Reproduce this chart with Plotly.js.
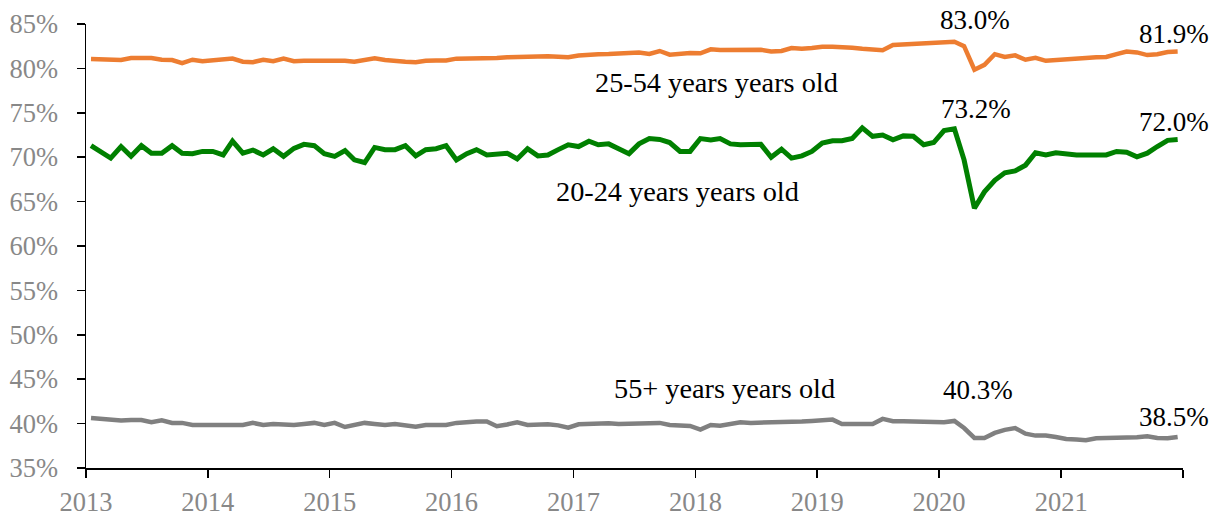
<!DOCTYPE html>
<html>
<head>
<meta charset="utf-8">
<script src="https://cdn.plot.ly/plotly-3.0.1.min.js"></script>
<style>html,body{margin:0;padding:0;background:#fff;}#chart{width:1221px;height:517px;}</style>
</head>
<body>
<div id="chart"></div>
<script>
// Monthly observations, Jan 2013 - Dec 2021
const years = [2013, 2014, 2015, 2016, 2017, 2018, 2019, 2020, 2021];
const tickYears = [2013, 2014, 2015, 2016, 2017, 2018, 2019, 2020, 2021, 2022];
const tickLabels = ['2013', '2014', '2015', '2016', '2017', '2018', '2019', '2020', '2021', ''];

const age2554 = [
  81.05, 80.98, 80.94, 80.94, 81.17, 81.17, 81.17, 80.98, 80.94, 80.6, 80.98, 80.8,
  80.9, 81.1, 81.1, 80.75, 80.7, 80.98, 80.8, 81.1, 80.8, 80.85, 80.85, 80.87,
  80.94, 80.87, 80.75, 80.98, 81.13, 80.94, 80.8, 80.75, 80.7, 80.87, 80.9, 80.9,
  81.1, 81.1, 81.2, 81.17, 81.17, 81.25, 81.28, 81.36, 81.4, 81.36, 81.32, 81.25,
  81.44, 81.55, 81.6, 81.62, 81.66, 81.7, 81.8, 81.62, 81.96, 81.55, 81.66, 81.74,
  81.7, 82.15, 82.07, 82.07, 82.07, 82.15, 82.1, 81.9, 81.96, 82.3, 82.2, 82.3,
  82.44, 82.44, 82.44, 82.33, 82.2, 82.1, 82.05, 82.63, 82.7, 82.77, 82.8, 82.85,
  83.0, 83.0, 82.5, 79.85, 80.4, 81.6, 81.28, 81.47, 80.98, 81.2, 80.85, 80.9,
  80.98, 81.05, 81.17, 81.25, 81.28, 81.6, 81.9, 81.8, 81.5, 81.6, 81.85, 81.9
];
const age2024 = [
  71.3, 70.6, 69.9, 71.2, 70.1, 71.3, 70.45, 70.45, 71.3, 70.45, 70.4, 70.65,
  70.65, 70.25, 71.8, 70.45, 70.8, 70.25, 70.95, 70.1, 71.0, 71.45, 71.3, 70.4,
  70.1, 70.75, 69.7, 69.4, 71.1, 70.85, 70.85, 71.3, 70.15, 70.85, 70.95, 71.3,
  69.7, 70.4, 70.85, 70.25, 70.4, 70.45, 69.8, 70.95, 70.15, 70.25, 70.85, 71.4,
  71.2, 71.8, 71.4, 71.5, 70.95, 70.4, 71.5, 72.1, 72.0, 71.65, 70.65, 70.65,
  72.1, 71.95, 72.1, 71.5, 71.4, 71.4, 71.45, 70.0, 70.9, 69.9, 70.15, 70.65,
  71.6, 71.85, 71.85, 72.1, 73.3, 72.35, 72.5, 71.95, 72.4, 72.35, 71.4, 71.65,
  73.0, 73.2, 69.7, 64.25, 66.1, 67.4, 68.25, 68.45, 69.1, 70.5, 70.25, 70.5,
  70.35, 70.25, 70.25, 70.3, 70.25, 70.65, 70.55, 70.05, 70.45, 71.2, 71.9, 72.0
];
const age55 = [
  40.64, 40.56, 40.45, 40.34, 40.41, 40.41, 40.15, 40.38, 40.08, 40.08, 39.85, 39.85,
  39.85, 39.96, 39.85, 39.85, 40.08, 39.85, 39.96, 39.85, 39.85, 39.96, 40.08, 39.85,
  40.08, 39.62, 39.85, 40.08, 39.96, 39.85, 39.96, 39.77, 39.65, 39.85, 39.85, 39.85,
  40.08, 40.19, 40.23, 40.23, 39.7, 39.9, 40.15, 39.85, 39.92, 39.92, 39.8, 39.55,
  39.92, 40.0, 40.08, 40.04, 39.96, 39.96, 39.96, 40.04, 40.08, 39.85, 39.85, 39.74,
  39.32, 39.85, 39.77, 39.96, 40.15, 40.08, 40.11, 40.15, 40.08, 40.15, 40.23, 40.3,
  40.38, 40.45, 39.96, 39.92, 39.89, 39.96, 40.53, 40.26, 40.26, 40.26, 40.26, 40.26,
  40.15, 40.3, 39.5, 38.38, 38.38, 38.95, 39.29, 39.5, 38.87, 38.65, 38.65, 38.5,
  38.27, 38.2, 38.12, 38.35, 38.38, 38.38, 38.38, 38.46, 38.57, 38.38, 38.35, 38.5
];
const seriesNames = ['25-54 years years old', '20-24 years years old', '55+ years years old'];

const months = [];
years.forEach(y => { for (let m = 1; m <= 12; m++) months.push(y + '-' + String(m).padStart(2, '0') + '-16'); });

const serif = 'Liberation Serif, Times New Roman, serif';
const mk = (vals, color, w) => ({
  x: months, y: vals, type: 'scatter', mode: 'lines',
  line: { color: color, width: w }, hoverinfo: 'skip', showlegend: false
});
const data = [
  mk(age2554, '#ED7D31', 4.5),
  mk(age2024, '#008000', 5),
  mk(age55, '#808080', 4.5)
];

const peakIdx = 85; // Feb 2020
const last = months.length - 1;
const fmt = v => v.toFixed(1) + '%';
const ann = (x, y, text, xs, ys, size) => ({
  x: x, y: y, xref: 'x', yref: 'y', text: text, showarrow: false,
  xshift: xs, yshift: ys, font: { family: serif, size: size, color: '#000' }
});
const annotations = [
  ann(months[84], age2554[84], fmt(age2554[84]), 31, 22, 27),
  ann(months[last], age2554[last], fmt(age2554[last]), -4, 18, 27),
  ann(months[peakIdx], age2024[peakIdx], fmt(age2024[peakIdx]), 22, 20, 27),
  ann(months[last], age2024[last], fmt(age2024[last]), -4, 17, 27),
  ann(months[peakIdx], age55[peakIdx], fmt(age55[peakIdx]), 24, 31, 27),
  ann(months[last], age55[last], fmt(age55[last]), -4, 20, 27),
  { x: '2018-03-05', y: 78.38, xref: 'x', yref: 'y', text: seriesNames[0], showarrow: false, font: { family: serif, size: 28.3, color: '#000' } },
  { x: '2017-11-08', y: 66.1, xref: 'x', yref: 'y', text: seriesNames[1], showarrow: false, font: { family: serif, size: 28.3, color: '#000' } },
  { x: '2018-03-29', y: 44.0, xref: 'x', yref: 'y', text: seriesNames[2], showarrow: false, font: { family: serif, size: 28.3, color: '#000' } }
];

const layout = {
  width: 1221, height: 517,
  margin: { l: 86, r: 38, t: 24, b: 49 },
  paper_bgcolor: '#fff', plot_bgcolor: '#fff',
  showlegend: false,
  xaxis: {
    type: 'date',
    range: ['2013-01-01', '2022-01-01'],
    tickmode: 'array',
    tickvals: tickYears.map(y => y + '-01-01'),
    ticktext: tickLabels,
    showgrid: false, zeroline: false,
    showline: true, linecolor: '#000', linewidth: 1.5,
    ticks: 'outside', ticklen: 8, tickwidth: 1.5, tickcolor: '#000',
    ticklabelstandoff: 2,
    tickfont: { family: serif, size: 26.5, color: '#888888' }
  },
  yaxis: {
    range: [35, 85],
    tickmode: 'linear', tick0: 35, dtick: 5,
    ticksuffix: '%',
    showgrid: false, zeroline: false,
    showline: true, linecolor: '#000', linewidth: 1.5,
    ticks: 'outside', ticklen: 8, tickwidth: 1.5, tickcolor: '#000',
    ticklabelstandoff: 13,
    tickfont: { family: serif, size: 26.5, color: '#888888' }
  },
  annotations: annotations
};

Plotly.newPlot('chart', data, layout, { displayModeBar: false, staticPlot: true });
</script>
</body>
</html>
